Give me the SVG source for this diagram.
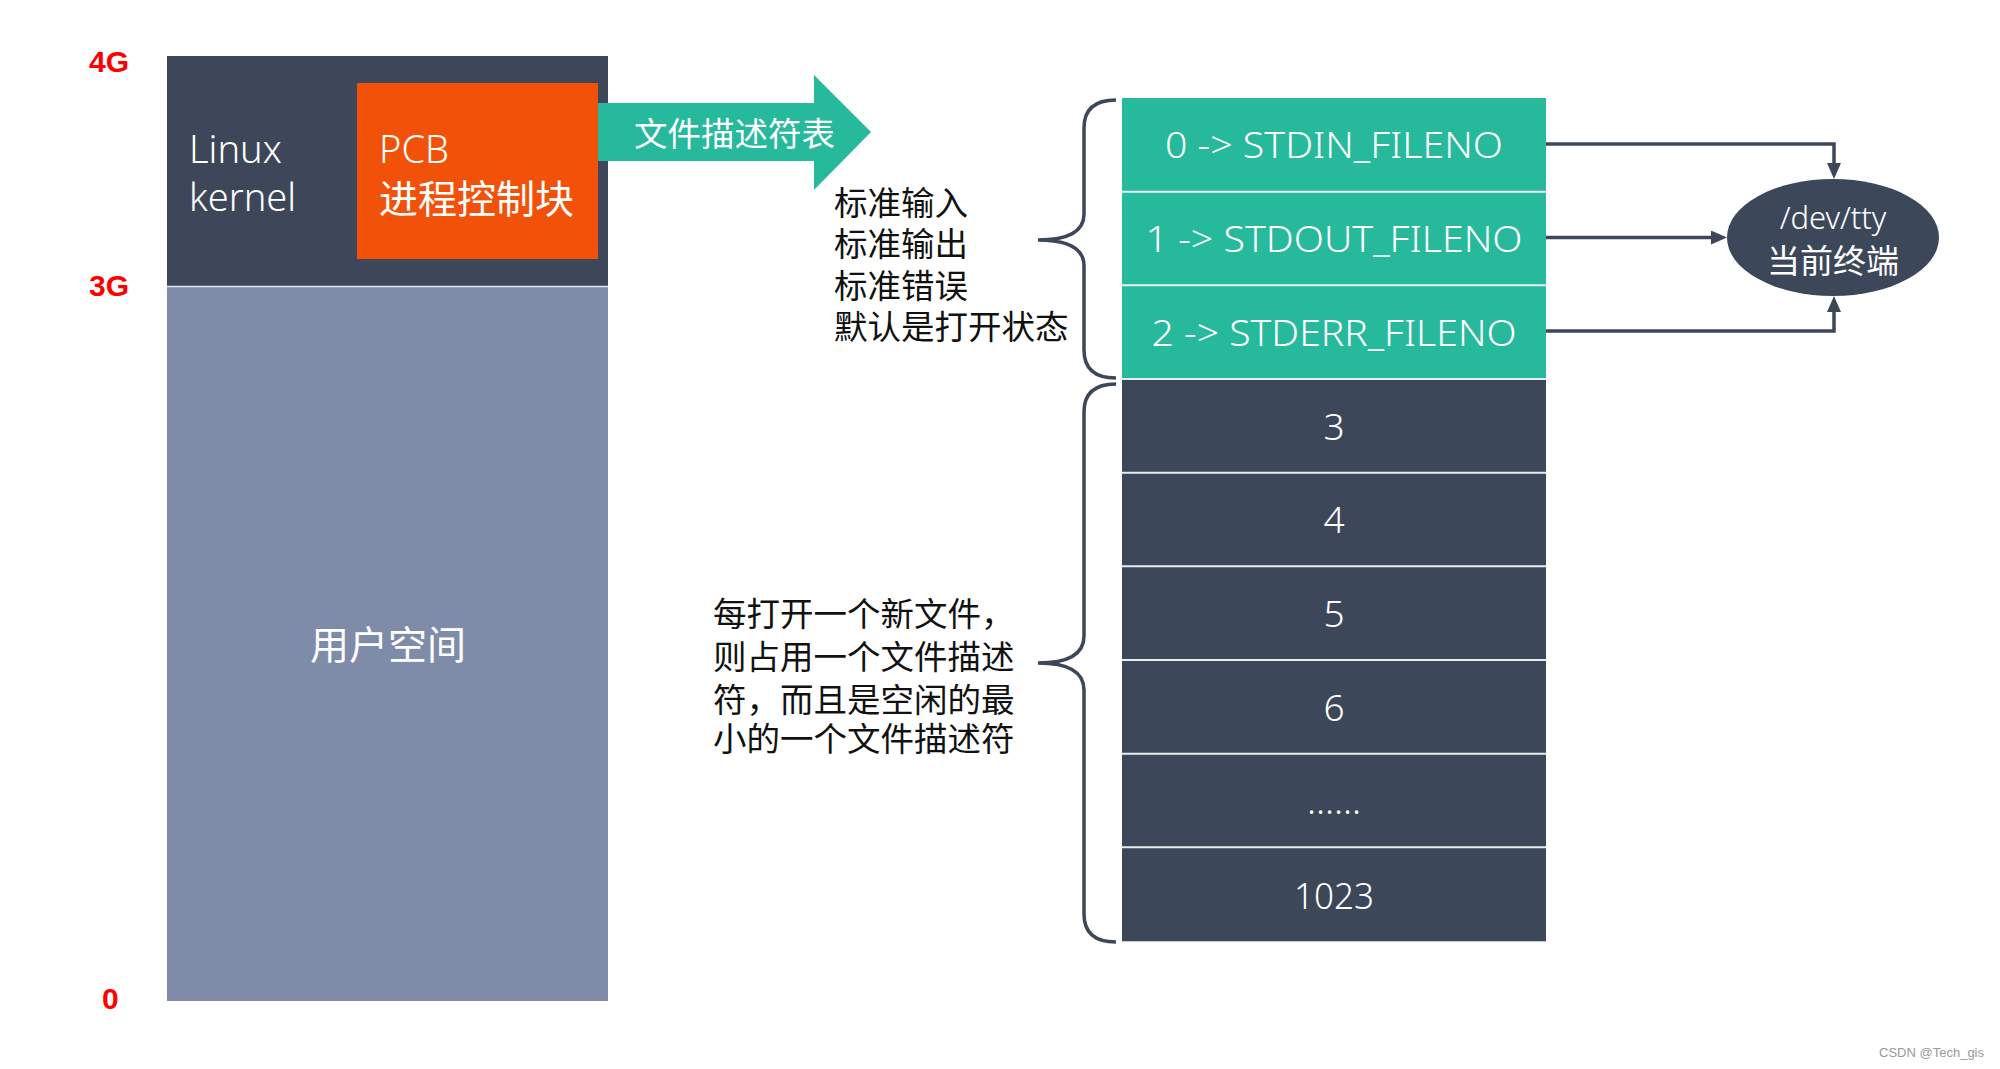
<svg xmlns="http://www.w3.org/2000/svg" width="2000" height="1069" viewBox="0 0 2000 1069">
<defs>
<style>
.lbl{font-family:"Liberation Sans",Arial,sans-serif;font-weight:bold;font-size:30px;fill:#ff0000}
.wt{font-family:"Noto Sans","Noto Sans CJK SC",sans-serif;font-weight:300;fill:#ffffff}
.cj{font-family:"Noto Sans CJK SC","Noto Sans",sans-serif;fill:#ffffff}
.bk{font-family:"Liberation Sans","Noto Sans CJK SC",sans-serif;font-size:33.5px;fill:#111111}
.green{fill:#26b99b}
.dark{fill:#3c475a}
.sep{stroke:#e8eef0;stroke-width:2}
.conn{fill:none;stroke:#3c4759;stroke-width:3.5}
.brace{fill:none;stroke:#3c4759;stroke-width:3.5}
.cell{font-family:"Noto Sans","Noto Sans CJK SC",sans-serif;font-weight:300;font-size:37px;fill:#ffffff;text-anchor:middle}
</style>
<marker id="ah" markerUnits="userSpaceOnUse" viewBox="0 0 16 14" markerWidth="16" markerHeight="14" refX="8" refY="7" orient="auto">
<path d="M0,0 L16,7 L0,14 z" fill="#3c4759"/>
</marker>
</defs>
<rect width="2000" height="1069" fill="#ffffff"/>

<g id="axis-labels">
<text class="lbl" x="89" y="72">4G</text>
<text class="lbl" x="89" y="296">3G</text>
<text class="lbl" x="102" y="1009">0</text>
</g>

<g id="kernel">
<rect x="167" y="56" width="441" height="230" fill="#3d4759"/>
<text class="wt" font-size="38"><tspan x="189" y="163">Linux</tspan><tspan x="189" y="211">kernel</tspan></text>
</g>

<g id="user-space">
<rect x="167" y="287" width="441" height="714" fill="#7e8ca9"/>
<text class="cj" x="388" y="659" font-size="39" text-anchor="middle">用户空间</text>
</g>

<g id="pcb">
<rect x="357" y="83" width="241" height="176" fill="#f25109"/>
<text class="wt" font-size="38"><tspan x="379" y="163">PCB</tspan><tspan x="379" y="213" font-family="Liberation Sans,Noto Sans CJK SC,sans-serif" font-weight="400" font-size="39">进程控制块</tspan></text>
</g>

<g id="fd-table-arrow">
<polygon class="green" points="598,103 814,103 814,75 871,132 814,190 814,161 598,161"/>
<text class="cj" x="634" y="146" font-size="33.5">文件描述符表</text>
</g>

<g id="note-std">
<text class="bk"><tspan x="834" y="215">标准输入</tspan><tspan x="834" y="256">标准输出</tspan><tspan x="834" y="298">标准错误</tspan><tspan x="834" y="339">默认是打开状态</tspan></text>
</g>

<g id="note-new">
<text class="bk"><tspan x="713" y="626">每打开一个新文件，</tspan><tspan x="713" y="669">则占用一个文件描述</tspan><tspan x="713" y="712">符，而且是空闲的最</tspan><tspan x="713" y="751">小的一个文件描述符</tspan></text>
</g>

<g id="fd-table">
<g id="fd0"><rect class="green" x="1122" y="98" width="424" height="94"/><text class="cell" x="1334" y="158" textLength="338" lengthAdjust="spacingAndGlyphs">0 -&gt; STDIN_FILENO</text></g>
<g id="fd1"><rect class="green" x="1122" y="191.7" width="424" height="94"/><text class="cell" x="1334" y="252" textLength="377" lengthAdjust="spacingAndGlyphs">1 -&gt; STDOUT_FILENO</text></g>
<g id="fd2"><rect class="green" x="1122" y="285.3" width="424" height="94"/><text class="cell" x="1334" y="346" textLength="365" lengthAdjust="spacingAndGlyphs">2 -&gt; STDERR_FILENO</text></g>
<g id="fd3"><rect class="dark" x="1122" y="379" width="424" height="94"/><text class="cell" x="1334" y="439.5">3</text></g>
<g id="fd4"><rect class="dark" x="1122" y="472.7" width="424" height="94"/><text class="cell" x="1334" y="533">4</text></g>
<g id="fd5"><rect class="dark" x="1122" y="566.3" width="424" height="94"/><text class="cell" x="1334" y="627">5</text></g>
<g id="fd6"><rect class="dark" x="1122" y="660" width="424" height="94"/><text class="cell" x="1334" y="720.5">6</text></g>
<g id="fd-more"><rect class="dark" x="1122" y="753.7" width="424" height="94"/><text class="cell" x="1334" y="814">......</text></g>
<g id="fd1023"><rect class="dark" x="1122" y="847.3" width="424" height="94"/><text class="cell" x="1334" y="909" textLength="80" lengthAdjust="spacingAndGlyphs">1023</text></g>
<g id="separators">
<line class="sep" x1="1122" y1="191.7" x2="1546" y2="191.7"/>
<line class="sep" x1="1122" y1="285.3" x2="1546" y2="285.3"/>
<line class="sep" x1="1122" y1="379" x2="1546" y2="379"/>
<line class="sep" x1="1122" y1="472.7" x2="1546" y2="472.7"/>
<line class="sep" x1="1122" y1="566.3" x2="1546" y2="566.3"/>
<line class="sep" x1="1122" y1="660" x2="1546" y2="660"/>
<line class="sep" x1="1122" y1="753.7" x2="1546" y2="753.7"/>
<line class="sep" x1="1122" y1="847.3" x2="1546" y2="847.3"/>
<line x1="167" y1="286.5" x2="608" y2="286.5" stroke="#dfe3ea" stroke-width="1.5"/>
</g>
</g>

<g id="tty">
<ellipse cx="1833" cy="237.5" rx="106" ry="58.5" fill="#3c475a"/>
<text class="wt" x="1833" y="229" font-size="31" text-anchor="middle">/dev/tty</text>
<text class="cj" x="1833" y="273" font-size="33" text-anchor="middle">当前终端</text>
</g>

<g id="braces">
<path class="brace" d="M1116,100 C1096,100 1084,108 1084,128 L1084,214 C1084,232 1068,240 1038,240 C1068,240 1084,248 1084,266 L1084,350 C1084,370 1096,378 1116,378"/>
<path class="brace" d="M1116,384 C1096,384 1084,392 1084,412 L1084,636 C1084,654 1068,663 1038,663 C1068,663 1084,672 1084,690 L1084,914 C1084,934 1096,942 1116,942"/>
</g>

<g id="connectors">
<path class="conn" marker-end="url(#ah)" d="M1546,144 H1834 V171"/>
<path class="conn" marker-end="url(#ah)" d="M1546,237.5 H1719"/>
<path class="conn" marker-end="url(#ah)" d="M1546,331 H1834 V304"/>
</g>

<text x="1984" y="1057" font-family="Liberation Sans,Arial,sans-serif" font-size="13" fill="#999999" text-anchor="end">CSDN @Tech_gis</text>
</svg>
